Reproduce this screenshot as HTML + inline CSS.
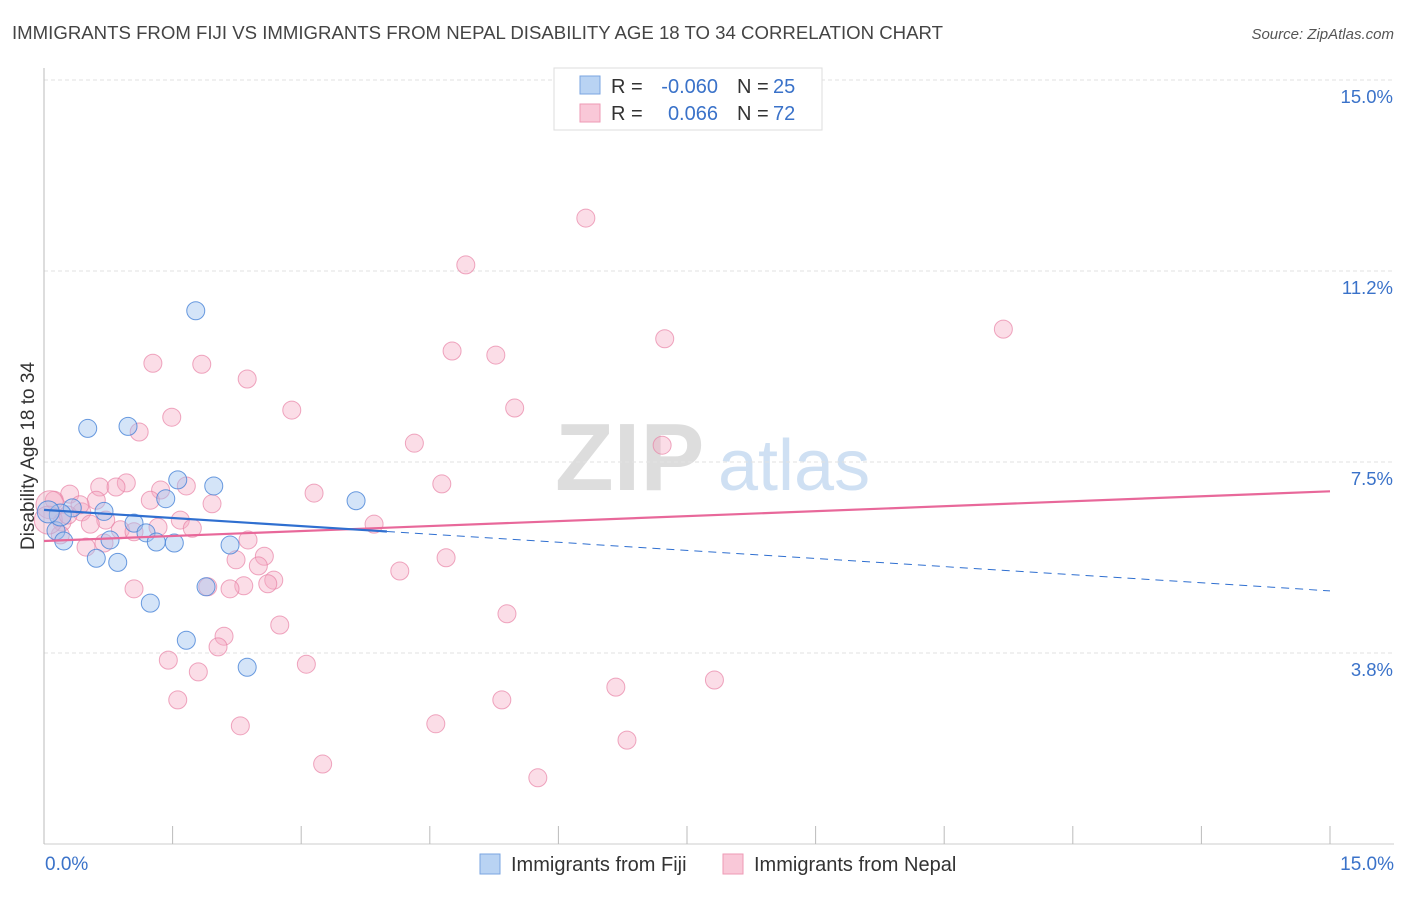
<!DOCTYPE html>
<html><head><meta charset="utf-8"><style>
body{margin:0;background:#fff;width:1406px;height:892px;overflow:hidden;font-family:"Liberation Sans",sans-serif}
svg text{font-family:"Liberation Sans",sans-serif}
</style></head><body>
<svg id="chart" width="1406" height="892" xmlns="http://www.w3.org/2000/svg">
<text x="12" y="39" font-size="18.6" fill="#444" textLength="931" lengthAdjust="spacingAndGlyphs">IMMIGRANTS FROM FIJI VS IMMIGRANTS FROM NEPAL DISABILITY AGE 18 TO 34 CORRELATION CHART</text>
<text x="1394" y="39" font-size="15" fill="#555" text-anchor="end" font-style="italic">Source: ZipAtlas.com</text>
<g>
<text x="555" y="490" font-size="96" fill="#ddd" font-family="Liberation Serif,serif" font-weight="bold">ZIP</text>
<text x="718" y="490" font-size="72" fill="#cfe0f3">atlas</text>
</g>
<g id="grid"></g>
<line x1="44" y1="68" x2="44" y2="844" stroke="#bbb"/>
<line x1="44" y1="844" x2="1394" y2="844" stroke="#ccc"/>
<g id="xticks"></g>
<text transform="translate(34,456) rotate(-90)" font-size="19" fill="#333" text-anchor="middle">Disability Age 18 to 34</text>
<text x="45" y="870" font-size="19" fill="#3a72c9">0.0%</text>
<text x="1394" y="870" font-size="19" fill="#3a72c9" text-anchor="end">15.0%</text>
<g id="points"></g>
<g id="lines"></g>
<g>
<rect x="554" y="68" width="268" height="62" fill="#fff" stroke="#ddd"/>
<rect x="580" y="76" width="20" height="18" fill="#b9d3f3" stroke="#7aa5e0"/>
<rect x="580" y="104" width="20" height="18" fill="#f9c8d8" stroke="#ee9ab5"/>
<text x="611" y="93" font-size="20" fill="#333">R =</text>
<text x="718" y="93" font-size="20" fill="#3a72c9" text-anchor="end">-0.060</text>
<text x="737" y="93" font-size="20" fill="#333">N =</text>
<text x="773" y="93" font-size="20" fill="#3a72c9">25</text>
<text x="611" y="120" font-size="20" fill="#333">R =</text>
<text x="718" y="120" font-size="20" fill="#3a72c9" text-anchor="end">0.066</text>
<text x="737" y="120" font-size="20" fill="#333">N =</text>
<text x="773" y="120" font-size="20" fill="#3a72c9">72</text>
</g>
<g>
<rect x="480" y="854" width="20" height="20" fill="#b9d3f3" stroke="#7aa5e0"/>
<text x="511" y="871" font-size="20" fill="#333">Immigrants from Fiji</text>
<rect x="723" y="854" width="20" height="20" fill="#f9c8d8" stroke="#ee9ab5"/>
<text x="754" y="871" font-size="20" fill="#333">Immigrants from Nepal</text>
</g>
</svg>
<script>
const yTicks=[15.0,11.25,7.5,3.75];
const yTickLabels=["15.0%","11.2%","7.5%","3.8%"];
const xTicks=[0,1.5,3,4.5,6,7.5,9,10.5,12,13.5,15];
const fijiX=[1.77,0.51,0.98,1.56,1.98,3.64,1.42,0.70,1.05,1.19,0.14,0.23,0.77,2.17,1.31,1.52,0.61,0.86,1.89,1.24,1.66,2.37,0.33,0.19,0.05];
const fijiY=[10.47,8.16,8.20,7.15,7.03,6.74,6.78,6.53,6.30,6.11,6.15,5.95,5.97,5.87,5.93,5.91,5.61,5.53,5.05,4.73,4.00,3.47,6.60,6.46,6.52];
const nepalX=[6.32,4.92,11.19,7.24,4.76,5.27,1.27,1.84,2.37,5.49,2.89,1.49,1.11,4.32,7.21,0.96,4.64,1.66,0.65,1.36,3.15,0.84,0.61,1.96,0.30,0.44,0.12,0.72,1.59,0.21,3.85,1.73,0.54,1.33,0.89,1.05,0.19,0.70,0.49,2.24,2.57,4.69,2.50,4.15,2.68,2.61,1.05,2.33,2.17,1.91,5.40,2.75,2.10,2.03,1.45,3.06,1.80,7.82,6.67,1.56,5.34,2.29,4.57,6.80,3.25,5.76,0.07,0.05,0.28,0.42,1.24,2.38];
const nepalY=[12.29,11.37,10.11,9.92,9.68,9.60,9.44,9.42,9.13,8.56,8.52,8.38,8.09,7.87,7.83,7.09,7.07,7.03,7.01,6.95,6.89,7.01,6.75,6.68,6.87,6.52,6.75,6.36,6.36,6.32,6.28,6.20,6.28,6.22,6.17,6.13,6.07,5.91,5.83,5.58,5.65,5.62,5.46,5.36,5.18,5.11,5.01,5.07,5.01,5.05,4.52,4.30,4.08,3.87,3.61,3.53,3.38,3.22,3.08,2.83,2.83,2.32,2.36,2.04,1.57,1.30,6.66,6.36,6.46,6.66,6.75,5.97];
const fijiTrend=[6.56,-0.106];
const fijiSolidEnd=4.0;
const nepalTrend=[5.95,0.065];
const X=v=>44+v/15*1286;
const Y=v=>844-v*50.93;
const NS="http://www.w3.org/2000/svg";
function mk(tag,attrs,parent){const e=document.createElementNS(NS,tag);for(const k in attrs)e.setAttribute(k,attrs[k]);document.getElementById(parent).appendChild(e);return e;}
yTicks.forEach((t,i)=>{
 const l=mk('line',{x1:44,x2:1394,y1:Y(t),y2:Y(t),stroke:'#e2e2e2','stroke-dasharray':'4,3'},'grid');
 
 
 const tx=mk('text',{x:1393,y:Y(t)+23,'font-size':18.5,fill:'#3a72c9','text-anchor':'end'},'grid');
 tx.textContent=yTickLabels[i];
 
 
});
xTicks.forEach(t=>{
 const l=mk('line',{x1:X(t),x2:X(t),y1:826,y2:844,stroke:'#bbb'},'xticks');
 
 
});
nepalX.forEach((x,i)=>{
 const r=(i>=66&&i<=67)?14:9;
 const c=mk('circle',{cx:X(x),cy:Y(nepalY[i]),r:r,fill:'rgba(246,170,195,0.4)',stroke:'rgba(232,130,165,0.7)','stroke-width':1},'points');
 
 
});
fijiX.forEach((x,i)=>{
 const r=(i>=23)?11:9;
 const c=mk('circle',{cx:X(x),cy:Y(fijiY[i]),r:r,fill:'rgba(160,195,240,0.45)',stroke:'rgba(70,130,215,0.8)','stroke-width':1},'points');
 
 
});
const f=v=>fijiTrend[0]+fijiTrend[1]*v, n=v=>nepalTrend[0]+nepalTrend[1]*v;
let l1=mk('line',{x1:X(0),y1:Y(n(0)),x2:X(15),y2:Y(n(15)),stroke:'#e8689a','stroke-width':2.2},'lines');


let l2=mk('line',{x1:X(0),y1:Y(f(0)),x2:X(fijiSolidEnd),y2:Y(f(fijiSolidEnd)),stroke:'#2f6fd0','stroke-width':2.2},'lines');


let l3=mk('line',{x1:X(fijiSolidEnd),y1:Y(f(fijiSolidEnd)),x2:X(15),y2:Y(f(15)),stroke:'#2f6fd0','stroke-width':1,'stroke-dasharray':'8,6'},'lines');


</script>
</body></html>
